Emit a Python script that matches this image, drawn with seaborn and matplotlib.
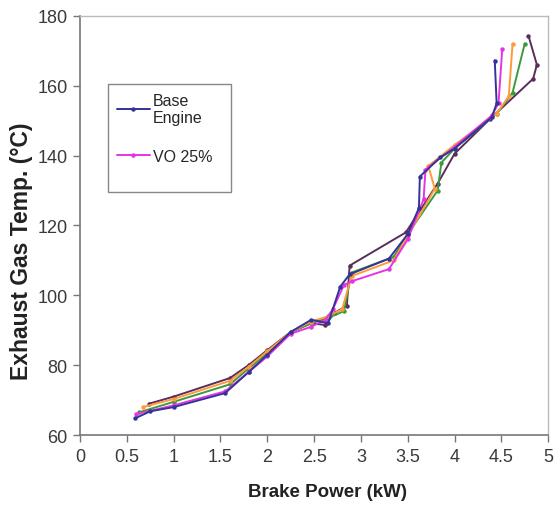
import matplotlib
matplotlib.use("Agg")
import matplotlib.pyplot as plt
from matplotlib.patches import Rectangle
import seaborn as sns
import pandas as pd

sns.set_style("white")
plt.rcParams['font.family'] = ['Liberation Sans', 'DejaVu Sans']

# ---- data ----
base_x = [0.59, 0.75, 1.00, 1.55, 1.80, 2.00, 2.25, 2.47, 2.65, 2.78, 2.88, 3.30, 3.50, 3.62, 3.63, 3.85, 4.00, 4.40, 4.45, 4.43]
base_y = [64.8, 66.8, 68.0, 72.0, 78.0, 83.0, 89.5, 93.0, 92.0, 102.5, 106.0, 110.5, 117.5, 125.0, 134.0, 139.5, 142.0, 151.0, 155.0, 167.2]

vo25_x = [0.60, 1.00, 1.55, 1.80, 2.00, 2.25, 2.47, 2.62, 2.70, 2.82, 2.90, 3.30, 3.50, 3.67, 3.69, 4.00, 4.40, 4.47, 4.51]
vo25_y = [66.0, 68.5, 72.5, 78.0, 82.5, 89.0, 91.0, 93.0, 96.0, 103.0, 104.0, 107.5, 116.0, 127.5, 136.0, 142.5, 151.5, 155.0, 170.5]

vo50_x = [0.67, 1.00, 1.60, 1.80, 2.00, 2.25, 2.47, 2.65, 2.80, 2.90, 3.35, 3.50, 3.79, 3.72, 4.00, 4.45, 4.58, 4.62]
vo50_y = [68.0, 70.3, 75.5, 79.5, 84.0, 89.5, 92.5, 94.0, 96.0, 105.5, 110.0, 117.0, 130.5, 137.0, 143.0, 152.0, 157.0, 172.0]

vo75_x = [0.63, 1.00, 1.60, 1.80, 2.00, 2.25, 2.47, 2.65, 2.82, 2.90, 3.35, 3.50, 3.82, 3.86, 4.00, 4.45, 4.62, 4.75]
vo75_y = [66.5, 69.5, 74.5, 79.0, 83.5, 89.5, 92.0, 93.5, 95.5, 106.5, 111.0, 117.5, 130.0, 138.0, 142.0, 152.0, 158.0, 172.0]

vo100_x = [0.74, 1.00, 1.60, 1.80, 2.00, 2.25, 2.47, 2.62, 2.72, 2.85, 2.88, 3.48, 3.82, 4.00, 4.38, 4.84, 4.88, 4.79]
vo100_y = [69.0, 71.0, 76.3, 80.0, 84.3, 89.5, 92.0, 91.5, 95.0, 97.0, 108.5, 118.0, 132.0, 140.5, 150.5, 162.0, 166.0, 174.3]

series_names = ["Base Engine", "VO 25%", "VO 50%", "VO 75%", "VO 100%"]
legend_labels = {"Base Engine": "Base\nEngine", "VO 25%": "VO 25%"}
colors = {"Base Engine": "#33339a", "VO 25%": "#e633e6",
          "VO 50%": "#ff9a3c", "VO 75%": "#3c9a3c", "VO 100%": "#5a2d5a"}

frames = []
for name, xs, ys in zip(series_names,
                        [base_x, vo25_x, vo50_x, vo75_x, vo100_x],
                        [base_y, vo25_y, vo50_y, vo75_y, vo100_y]):
    frames.append(pd.DataFrame({"power": xs, "temp": ys, "fuel": name}))
df = pd.concat(frames, ignore_index=True)

fig = plt.figure(figsize=(5.54, 5.10), dpi=100)
ax = fig.add_axes([0.1444, 0.145, 0.845, 0.822])

# draw in reverse so Base Engine is on top
for name in series_names[::-1]:
    sub = df[df["fuel"] == name]
    sns.lineplot(data=sub, x="power", y="temp", sort=False, estimator=None,
                 color=colors[name], linewidth=1.4, marker="o", markersize=3.2,
                 markeredgewidth=0, ax=ax,
                 label=legend_labels.get(name, "_nolegend_"))

ax.set_xlim(0, 5)
ax.set_ylim(60, 180)
ax.set_xticks([0, 0.5, 1, 1.5, 2, 2.5, 3, 3.5, 4, 4.5, 5])
ax.set_xticklabels(["0", "0.5", "1", "1.5", "2", "2.5", "3", "3.5", "4", "4.5", "5"])
ax.set_yticks([60, 80, 100, 120, 140, 160, 180])

ax.set_xlabel("Brake Power (kW)", fontsize=13.5, fontweight="bold", color="#222222")
ax.set_ylabel("Exhaust Gas Temp. (°C)", fontsize=16.5, fontweight="bold", color="#222222")
ax.xaxis.set_label_coords(0.528, -0.115)
ax.yaxis.set_label_coords(-0.10, 0.44)

ax.tick_params(axis="both", which="major", direction="out", length=5, width=1,
               color="#777777", labelsize=13, labelcolor="#3a3a3a", pad=4)
ax.tick_params(axis="x", bottom=True)
ax.tick_params(axis="y", left=True)

for side in ["left", "bottom"]:
    ax.spines[side].set_color("#777777")
    ax.spines[side].set_linewidth(1.2)
for side in ["top", "right"]:
    ax.spines[side].set_color("#bbbbbb")
    ax.spines[side].set_linewidth(1.0)

# legend box (frame drawn separately to match the reference's padding)
ax.add_patch(Rectangle((0.060, 0.580), 0.263, 0.258, transform=ax.transAxes,
                       facecolor="white", edgecolor="#888888", linewidth=1.0, zorder=5))
handles, labels = ax.get_legend_handles_labels()
order = [labels.index("Base\nEngine"), labels.index("VO 25%")]
leg = ax.legend([handles[i] for i in order], [labels[i] for i in order],
                loc="upper left", bbox_to_anchor=(0.068, 0.828),
                frameon=False, fontsize=11.5,
                handlelength=2.1, handletextpad=0.15, labelspacing=1.5,
                borderpad=0.3, borderaxespad=0)
leg.set_zorder(6)

fig.savefig("out.png", dpi=100)
